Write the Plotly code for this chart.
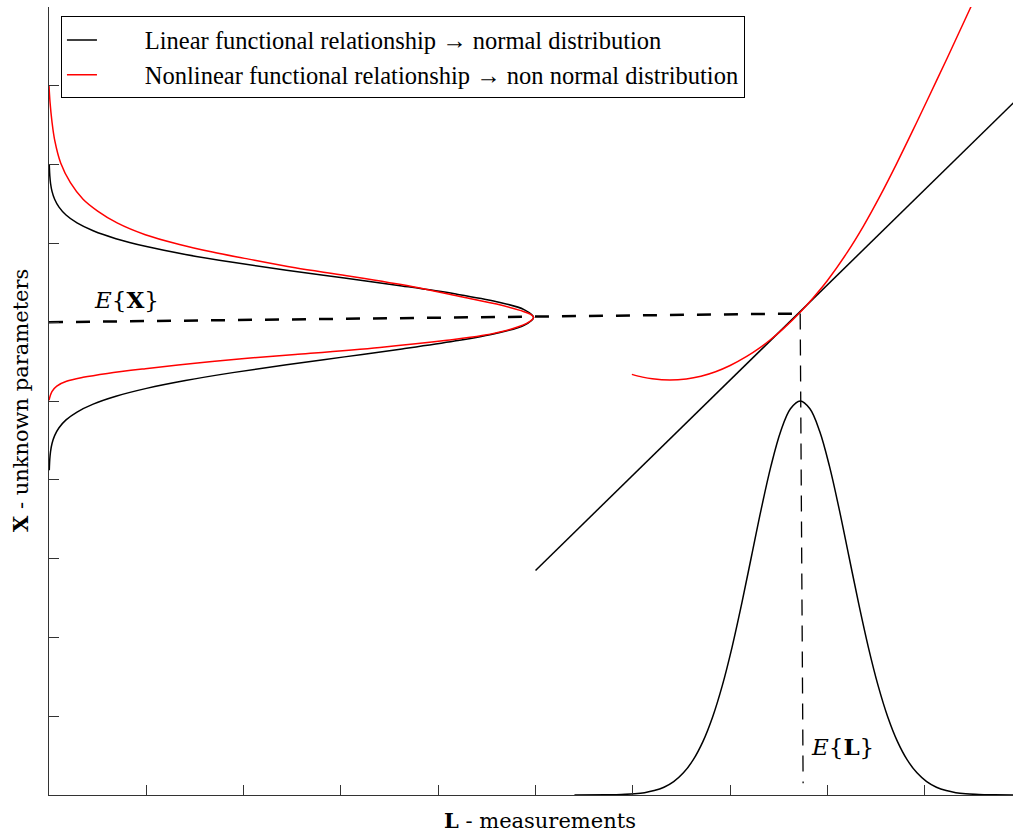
import plotly.graph_objects as go

# ---- data (data units) ----
x_ticks = [0, 1, 2, 3, 4, 5, 6, 7, 8, 9]
y_ticks = [0, 1, 2, 3, 4, 5, 6, 7, 8, 9, 10]

# left black distribution (normal) of X : x = density, y = X
lin_dist_x = [0.003, 0.004, 0.008, 0.016, 0.031, 0.058, 0.103, 0.175, 0.288, 0.454, 0.688, 1.002, 1.402, 1.888,
              2.441, 3.036, 3.628, 4.168, 4.601, 4.882, 4.98,
              4.882, 4.601, 4.168, 3.628, 3.036, 2.441, 1.888, 1.402, 1.002, 0.688, 0.454, 0.288, 0.175,
              0.103, 0.058, 0.031, 0.016, 0.008, 0.004, 0.003]
lin_dist_y = [8.00, 7.96, 7.86, 7.76, 7.66, 7.56, 7.46, 7.36, 7.26, 7.16, 7.06, 6.96, 6.86, 6.76,
              6.66, 6.56, 6.46, 6.36, 6.26, 6.16, 6.06,
              5.96, 5.86, 5.76, 5.66, 5.56, 5.46, 5.36, 5.26, 5.16, 5.06, 4.96, 4.86, 4.76,
              4.66, 4.56, 4.46, 4.36, 4.26, 4.16, 4.12]

# left red distribution (non normal) of X
nonlin_dist_x = [0.0, 0.01, 0.03, 0.06, 0.12, 0.22, 0.35, 0.50, 0.70, 0.99, 1.33, 1.68, 2.01, 2.53, 3.06, 3.74,
                 4.25, 4.60, 4.84, 4.95, 4.98,
                 4.93, 4.77, 4.45, 4.09, 3.40, 2.53, 2.01, 1.50, 0.99, 0.60, 0.35, 0.18, 0.08, 0.03, 0.0]
nonlin_dist_y = [9.00, 8.80, 8.55, 8.30, 8.02, 7.77, 7.56, 7.41, 7.26, 7.11, 6.99, 6.89, 6.81, 6.69, 6.59, 6.45,
                 6.32, 6.23, 6.15, 6.10, 6.06,
                 6.00, 5.92, 5.83, 5.77, 5.68, 5.59, 5.54, 5.48, 5.41, 5.35, 5.30, 5.25, 5.19, 5.12, 5.01]

# bottom black distribution of L : x = L, y = density
meas_dist_x = [5.40, 5.72, 5.82, 5.92, 6.02, 6.12, 6.22, 6.32, 6.42, 6.52, 6.62, 6.72, 6.82, 6.92, 7.02, 7.12,
               7.22, 7.32, 7.42, 7.52, 7.62, 7.72, 7.82, 7.92, 8.02, 8.12, 8.22, 8.32, 8.42, 8.52, 8.62,
               8.72, 8.82, 8.92, 9.02, 9.12, 9.22, 9.32, 9.42, 9.52, 9.62, 9.72, 10.0]
meas_dist_y = [0.0, 0.002, 0.004, 0.008, 0.016, 0.030, 0.056, 0.099, 0.170, 0.281, 0.445, 0.677, 0.990, 1.391,
               1.877, 2.434, 3.033, 3.631, 4.176, 4.616, 4.901, 5.0, 4.901, 4.616, 4.176, 3.631, 3.033, 2.434,
               1.877, 1.391, 0.990, 0.677, 0.445, 0.281, 0.170, 0.099, 0.056, 0.030, 0.016, 0.008, 0.004,
               0.002, 0.0]

# linear functional relationship
lin_rel_x = [5.0, 10.0]
lin_rel_y = [2.85, 8.89]

# nonlinear functional relationship
nonlin_rel_x = [5.99, 6.10, 6.20, 6.38, 6.55, 6.70, 6.85, 7.00, 7.17, 7.30, 7.41, 7.55, 7.72, 7.85, 8.00,
                8.20, 8.37, 8.54, 8.71, 8.88, 9.05, 9.23, 9.35, 9.47, 9.50]
nonlin_rel_y = [5.338, 5.303, 5.281, 5.265, 5.279, 5.314, 5.371, 5.45, 5.565, 5.671, 5.774, 5.922, 6.127,
                6.305, 6.53, 6.88, 7.22, 7.60, 8.01, 8.44, 8.88, 9.35, 9.67, 9.99, 10.07]

# expectation guide lines
ex_line_x = [0.0, 7.72]
ex_line_y = [6.0, 6.11]
el_line_x = [7.72, 7.75]
el_line_y = [6.11, 0.15]

LEG_FONT = "Liberation Serif"
LBL_FONT = "DejaVu Serif"
NB = "\u00a0" * 7

fig = go.Figure()
fig.add_trace(go.Scatter(x=lin_dist_x, y=lin_dist_y, mode="lines",
                         line=dict(color="black", width=1.5, shape="spline", smoothing=1.0),
                         name=NB + "Linear functional relationship \u2192 normal distribution", showlegend=True))
fig.add_trace(go.Scatter(x=nonlin_dist_x, y=nonlin_dist_y, mode="lines",
                         line=dict(color="red", width=1.5, shape="spline", smoothing=1.0),
                         name=NB + "Nonlinear functional relationship \u2192 non normal distribution", showlegend=True))
fig.add_trace(go.Scatter(x=meas_dist_x, y=meas_dist_y, mode="lines",
                         line=dict(color="black", width=1.5, shape="spline", smoothing=1.0), showlegend=False))
fig.add_trace(go.Scatter(x=lin_rel_x, y=lin_rel_y, mode="lines",
                         line=dict(color="black", width=1.5), showlegend=False))
fig.add_trace(go.Scatter(x=nonlin_rel_x, y=nonlin_rel_y, mode="lines",
                         line=dict(color="red", width=1.5, shape="spline", smoothing=1.0), showlegend=False))
fig.add_trace(go.Scatter(x=ex_line_x, y=ex_line_y, mode="lines",
                         line=dict(color="black", width=2.5, dash="14px,13px"), showlegend=False))
fig.add_trace(go.Scatter(x=el_line_x, y=el_line_y, mode="lines",
                         line=dict(color="black", width=1.3, dash="16px,10px"), showlegend=False))

fig.add_annotation(x=0.80, y=6.29, xref="x", yref="y", text="<i>E</i>{<b>X</b>}", showarrow=False,
                   font=dict(family=LBL_FONT, size=23, color="black"), xanchor="center", yanchor="middle")
fig.add_annotation(x=8.15, y=0.62, xref="x", yref="y", text="<i>E</i>{<b>L</b>}", showarrow=False,
                   font=dict(family=LBL_FONT, size=23, color="black"), xanchor="center", yanchor="middle")
fig.add_annotation(x=0.509, y=-0.032, xref="paper", yref="paper", text="<b>L</b> - measurements", showarrow=False,
                   font=dict(family=LBL_FONT, size=21, color="black"), xanchor="center", yanchor="middle")
fig.add_annotation(x=-0.030, y=0.5, xref="paper", yref="paper", text="<b>X</b> - unknown parameters", showarrow=False,
                   textangle=-90, font=dict(family=LBL_FONT, size=21, color="black"), xanchor="center", yanchor="middle")

fig.update_layout(
    width=1013, height=832, autosize=False,
    margin=dict(l=49, r=0, t=7, b=37),
    paper_bgcolor="white", plot_bgcolor="white",
    font=dict(family=LEG_FONT, size=24.5, color="black"),
    showlegend=True,
    legend=dict(x=0.0124, y=0.988, xanchor="left", yanchor="top",
                bgcolor="white", bordercolor="black", borderwidth=1,
                font=dict(family=LEG_FONT, size=24.5, color="black"),
                tracegroupgap=0),
    xaxis=dict(range=[0, 9.907], tickvals=x_ticks, showticklabels=False, ticks="inside", ticklen=10,
               tickcolor="#333", showline=True, linecolor="#333", linewidth=1, showgrid=False, zeroline=False),
    yaxis=dict(range=[0, 10], tickvals=y_ticks, showticklabels=False, ticks="inside", ticklen=10,
               tickcolor="#333", showline=True, linecolor="#333", linewidth=1, showgrid=False, zeroline=False),
)

fig.write_html("out.html", config={"responsive": False, "displayModeBar": False},
               post_script="document.body.style.margin='0px';document.body.style.padding='0px';"
                           "document.documentElement.style.overflow='hidden';")
